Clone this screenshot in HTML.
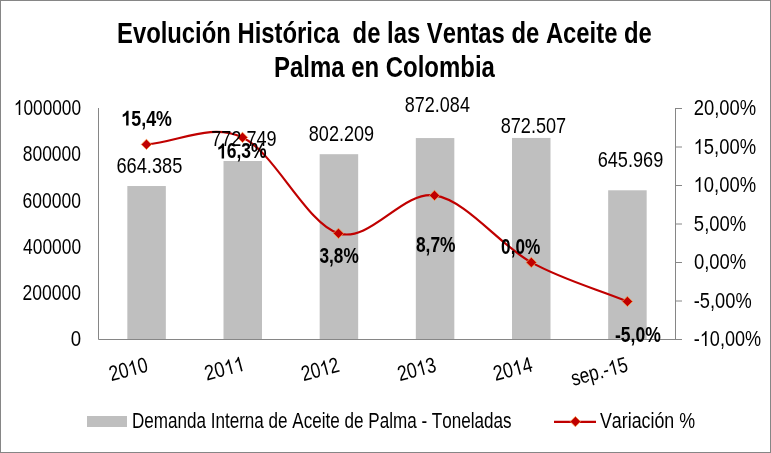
<!DOCTYPE html><html><head><meta charset="utf-8"><style>html,body{margin:0;padding:0;background:#fff;overflow:hidden;}svg{display:block;will-change:transform;}text{font-family:"Liberation Sans", sans-serif;fill:#000;font-kerning:none;font-variant-ligatures:none;}</style></head><body>
<svg width="771" height="453" viewBox="0 0 771 453">
<rect x="0" y="0" width="771" height="453" fill="#fff"/>
<rect x="0.5" y="0.5" width="770" height="452" fill="none" stroke="#868686" stroke-width="1"/>
<g transform="translate(117.01 43.00) scale(0.8136 1)"><text x="0" y="0" font-size="29.3" font-weight="bold" xml:space="preserve">Evolución Histórica  de las Ventas de Aceite de</text></g>
<g transform="translate(274.00 76.60) scale(0.8175 1)"><text x="0" y="0" font-size="29.3" font-weight="bold" xml:space="preserve">Palma en Colombia</text></g>
<rect x="127.33" y="186.03" width="38.5" height="153.47" fill="#BFBFBF"/>
<rect x="223.50" y="160.99" width="38.5" height="178.51" fill="#BFBFBF"/>
<rect x="319.67" y="154.19" width="38.5" height="185.31" fill="#BFBFBF"/>
<rect x="415.83" y="138.05" width="38.5" height="201.45" fill="#BFBFBF"/>
<rect x="512.00" y="137.95" width="38.5" height="201.55" fill="#BFBFBF"/>
<rect x="608.17" y="190.28" width="38.5" height="149.22" fill="#BFBFBF"/>
<path d="M98.5 108 V339.5 H682" fill="none" stroke="#868686" stroke-width="1"/>
<path d="M675.5 108 V339.5" fill="none" stroke="#868686" stroke-width="1"/>
<path d="M675.5 108.50 H682" fill="none" stroke="#868686" stroke-width="1"/>
<path d="M675.5 147.00 H682" fill="none" stroke="#868686" stroke-width="1"/>
<path d="M675.5 185.50 H682" fill="none" stroke="#868686" stroke-width="1"/>
<path d="M675.5 224.00 H682" fill="none" stroke="#868686" stroke-width="1"/>
<path d="M675.5 262.50 H682" fill="none" stroke="#868686" stroke-width="1"/>
<path d="M675.5 301.00 H682" fill="none" stroke="#868686" stroke-width="1"/>
<path d="M675.5 339.50 H682" fill="none" stroke="#868686" stroke-width="1"/>
<g transform="translate(13.82 114.98) scale(0.7998 1)"><text x="0" y="0" font-size="21.6" xml:space="preserve"> 000000</text><path d="M763 0L583 0L583 1102.4Q518 1042.8 412.5 983.2Q307 923.6 223 893.8L223 1061.1Q374 1129.3 486.5 1225.9Q599 1322.5 647 1409L763 1409Z" transform="translate(0.000 0) scale(0.01055 -0.01055)"/></g>
<g transform="translate(22.74 160.98) scale(0.8094 1)"><text x="0" y="0" font-size="21.6" xml:space="preserve">800000</text></g>
<g transform="translate(22.61 207.98) scale(0.8113 1)"><text x="0" y="0" font-size="21.6" xml:space="preserve">600000</text></g>
<g transform="translate(23.10 253.98) scale(0.8044 1)"><text x="0" y="0" font-size="21.6" xml:space="preserve">400000</text></g>
<g transform="translate(22.62 299.98) scale(0.8112 1)"><text x="0" y="0" font-size="21.6" xml:space="preserve">200000</text></g>
<g transform="translate(70.77 345.98) scale(0.8620 1)"><text x="0" y="0" font-size="21.6" xml:space="preserve">0</text></g>
<g transform="translate(693.67 114.98) scale(0.8529 1)"><text x="0" y="0" font-size="21.6" xml:space="preserve">20,00%</text></g>
<g transform="translate(693.59 153.98) scale(0.8540 1)"><text x="0" y="0" font-size="21.6" xml:space="preserve"> 5,00%</text><path d="M763 0L583 0L583 1102.4Q518 1042.8 412.5 983.2Q307 923.6 223 893.8L223 1061.1Q374 1129.3 486.5 1225.9Q599 1322.5 647 1409L763 1409Z" transform="translate(0.000 0) scale(0.01055 -0.01055)"/></g>
<g transform="translate(693.59 191.98) scale(0.8540 1)"><text x="0" y="0" font-size="21.6" xml:space="preserve"> 0,00%</text><path d="M763 0L583 0L583 1102.4Q518 1042.8 412.5 983.2Q307 923.6 223 893.8L223 1061.1Q374 1129.3 486.5 1225.9Q599 1322.5 647 1409L763 1409Z" transform="translate(0.000 0) scale(0.01055 -0.01055)"/></g>
<g transform="translate(693.86 230.98) scale(0.8555 1)"><text x="0" y="0" font-size="21.6" xml:space="preserve">5,00%</text></g>
<g transform="translate(693.88 268.98) scale(0.8552 1)"><text x="0" y="0" font-size="21.6" xml:space="preserve">0,00%</text></g>
<g transform="translate(693.79 307.98) scale(0.8455 1)"><text x="0" y="0" font-size="21.6" xml:space="preserve">-5,00%</text></g>
<g transform="translate(693.80 345.98) scale(0.8371 1)"><text x="0" y="0" font-size="21.6" xml:space="preserve">- 0,00%</text><path d="M763 0L583 0L583 1102.4Q518 1042.8 412.5 983.2Q307 923.6 223 893.8L223 1061.1Q374 1129.3 486.5 1225.9Q599 1322.5 647 1409L763 1409Z" transform="translate(7.193 0) scale(0.01055 -0.01055)"/></g>
<path d="M146.45 144.40 C178.47 142.07 210.50 122.58 242.50 137.40 C274.50 152.22 306.45 223.68 338.45 233.35 C370.45 243.02 402.36 190.61 434.50 195.45 C466.64 200.29 499.15 244.73 531.30 262.40 C563.45 280.07 595.37 288.43 627.40 301.45" fill="none" stroke="#C00000" stroke-width="2.2" stroke-linejoin="round"/>
<path d="M146.45 139.25 L151.60 144.40 L146.45 149.55 L141.30 144.40Z" fill="#C00000" stroke="#F79646" stroke-width="0.8"/>
<path d="M242.50 132.25 L247.65 137.40 L242.50 142.55 L237.35 137.40Z" fill="#C00000" stroke="#F79646" stroke-width="0.8"/>
<path d="M338.45 228.20 L343.60 233.35 L338.45 238.50 L333.30 233.35Z" fill="#C00000" stroke="#F79646" stroke-width="0.8"/>
<path d="M434.50 190.30 L439.65 195.45 L434.50 200.60 L429.35 195.45Z" fill="#C00000" stroke="#F79646" stroke-width="0.8"/>
<path d="M531.30 257.25 L536.45 262.40 L531.30 267.55 L526.15 262.40Z" fill="#C00000" stroke="#F79646" stroke-width="0.8"/>
<path d="M627.40 296.30 L632.55 301.45 L627.40 306.60 L622.25 301.45Z" fill="#C00000" stroke="#F79646" stroke-width="0.8"/>
<g transform="translate(116.47 173.18) scale(0.8439 1)"><text x="0" y="0" font-size="21.6" xml:space="preserve">664.385</text></g>
<g transform="translate(211.27 145.98) scale(0.8361 1)"><text x="0" y="0" font-size="21.6" xml:space="preserve">772.749</text></g>
<g transform="translate(308.81 140.88) scale(0.8369 1)"><text x="0" y="0" font-size="21.6" xml:space="preserve">802.209</text></g>
<g transform="translate(404.82 111.68) scale(0.8339 1)"><text x="0" y="0" font-size="21.6" xml:space="preserve">872.084</text></g>
<g transform="translate(500.71 132.58) scale(0.8389 1)"><text x="0" y="0" font-size="21.6" xml:space="preserve">872.507</text></g>
<g transform="translate(597.68 166.58) scale(0.8399 1)"><text x="0" y="0" font-size="21.6" xml:space="preserve">645.969</text></g>
<g transform="translate(121.39 125.58) scale(0.8296 1)"><text x="0" y="0" font-size="21.5" font-weight="bold" xml:space="preserve"> 5,4%</text><path d="M825 0L544 0L544 1017.8Q462 943.8 351 888.1Q240 832.3 150 813.1L150 1053.4Q280 1093.8 420 1193.7Q560 1293.7 612 1409L825 1409Z" transform="translate(0.000 0) scale(0.01050 -0.01050)"/></g>
<g transform="translate(217.02 158.38) scale(0.8143 1)"><text x="0" y="0" font-size="21.5" font-weight="bold" xml:space="preserve"> 6,3%</text><path d="M825 0L544 0L544 1017.8Q462 943.8 351 888.1Q240 832.3 150 813.1L150 1053.4Q280 1093.8 420 1193.7Q560 1293.7 612 1409L825 1409Z" transform="translate(0.000 0) scale(0.01050 -0.01050)"/></g>
<g transform="translate(319.50 263.38) scale(0.8009 1)"><text x="0" y="0" font-size="21.5" font-weight="bold" xml:space="preserve">3,8%</text></g>
<g transform="translate(415.95 251.88) scale(0.8083 1)"><text x="0" y="0" font-size="21.5" font-weight="bold" xml:space="preserve">8,7%</text></g>
<g transform="translate(501.12 254.18) scale(0.8006 1)"><text x="0" y="0" font-size="21.5" font-weight="bold" xml:space="preserve">0,0%</text></g>
<g transform="translate(615.01 342.29) scale(0.8163 1)"><text x="0" y="0" font-size="21.5" font-weight="bold" xml:space="preserve">-5,0%</text></g>
<g transform="translate(111.29 381.32) rotate(-15) scale(0.8147 1)"><text x="0" y="0" font-size="21.6" xml:space="preserve">20 0</text><path d="M763 0L583 0L583 1102.4Q518 1042.8 412.5 983.2Q307 923.6 223 893.8L223 1061.1Q374 1129.3 486.5 1225.9Q599 1322.5 647 1409L763 1409Z" transform="translate(24.026 0) scale(0.01055 -0.01055)"/></g>
<g transform="translate(206.74 380.69) rotate(-15) scale(0.8433 1)"><text x="0" y="0" font-size="21.6" xml:space="preserve">20  </text><path d="M763 0L583 0L583 1102.4Q518 1042.8 412.5 983.2Q307 923.6 223 893.8L223 1061.1Q374 1129.3 486.5 1225.9Q599 1322.5 647 1409L763 1409Z" transform="translate(24.026 0) scale(0.01055 -0.01055)"/><path d="M763 0L583 0L583 1102.4Q518 1042.8 412.5 983.2Q307 923.6 223 893.8L223 1061.1Q374 1129.3 486.5 1225.9Q599 1322.5 647 1409L763 1409Z" transform="translate(36.039 0) scale(0.01055 -0.01055)"/></g>
<g transform="translate(303.39 381.24) rotate(-15) scale(0.8036 1)"><text x="0" y="0" font-size="21.6" xml:space="preserve">20 2</text><path d="M763 0L583 0L583 1102.4Q518 1042.8 412.5 983.2Q307 923.6 223 893.8L223 1061.1Q374 1129.3 486.5 1225.9Q599 1322.5 647 1409L763 1409Z" transform="translate(24.026 0) scale(0.01055 -0.01055)"/></g>
<g transform="translate(399.71 381.37) rotate(-15) scale(0.8118 1)"><text x="0" y="0" font-size="21.6" xml:space="preserve">20 3</text><path d="M763 0L583 0L583 1102.4Q518 1042.8 412.5 983.2Q307 923.6 223 893.8L223 1061.1Q374 1129.3 486.5 1225.9Q599 1322.5 647 1409L763 1409Z" transform="translate(24.026 0) scale(0.01055 -0.01055)"/></g>
<g transform="translate(495.49 381.08) rotate(-15) scale(0.8242 1)"><text x="0" y="0" font-size="21.6" xml:space="preserve">20 4</text><path d="M763 0L583 0L583 1102.4Q518 1042.8 412.5 983.2Q307 923.6 223 893.8L223 1061.1Q374 1129.3 486.5 1225.9Q599 1322.5 647 1409L763 1409Z" transform="translate(24.026 0) scale(0.01055 -0.01055)"/></g>
<g transform="translate(573.16 386.04) rotate(-15) scale(0.8031 1)"><text x="0" y="0" font-size="21.6" xml:space="preserve">sep.- 5</text><path d="M763 0L583 0L583 1102.4Q518 1042.8 412.5 983.2Q307 923.6 223 893.8L223 1061.1Q374 1129.3 486.5 1225.9Q599 1322.5 647 1409L763 1409Z" transform="translate(48.020 0) scale(0.01055 -0.01055)"/></g>
<rect x="87" y="416" width="40" height="11" fill="#BFBFBF"/>
<g transform="translate(131.90 428.28) scale(0.7906 1)"><text x="0" y="0" font-size="21.6" xml:space="preserve">Demanda Interna de Aceite de Palma - Toneladas</text></g>
<path d="M554 421.8 H596" stroke="#C00000" stroke-width="2.2"/>
<path d="M575.40 416.45 L580.55 421.60 L575.40 426.75 L570.25 421.60Z" fill="#C00000" stroke="#F79646" stroke-width="0.8"/>
<g transform="translate(599.92 428.28) scale(0.8261 1)"><text x="0" y="0" font-size="21.6" xml:space="preserve">Variación %</text></g>
</svg></body></html>
